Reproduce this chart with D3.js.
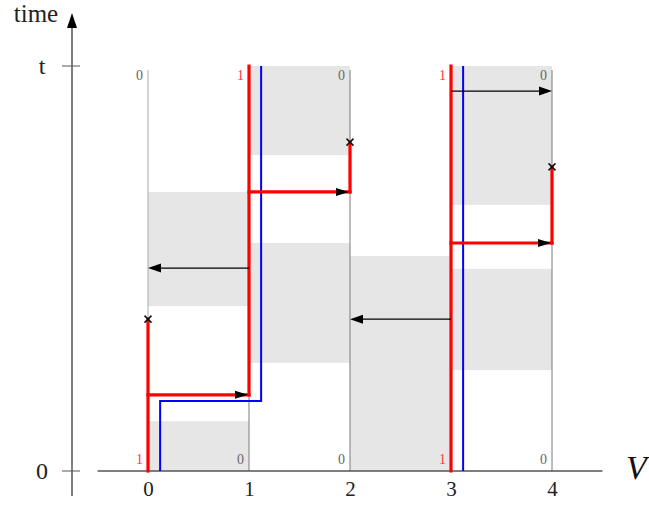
<!DOCTYPE html>
<html><head><meta charset="utf-8">
<script src="https://cdn.jsdelivr.net/npm/d3@7"></script>
<style>body{margin:0;background:#fff}svg{display:block}svg text{font-family:"Liberation Serif",serif !important}</style>
</head><body><div id="c"></div>
<script>
// positions V (0..4), time fraction of t (0..1)
const nodes = [0, 1, 2, 3, 4];
const xTicks = ["0", "1", "2", "3", "4"];
const yTicks = [{v: 0, label: "0"}, {v: 1, label: "t"}];
// initial (bottom) and final (top) states per site
const bottomStates = ["1", "0", "0", "1", "0"];
const topStates = ["0", "1", "0", "1", "0"];
// gray shaded intervals per column: [columnStart, t0, t1]
const shades = [
  [0, 0.0, 0.123], [0, 0.407, 0.689],
  [1, 0.267, 0.563], [1, 0.780, 1.0],
  [2, 0.0, 0.531],
  [3, 0.249, 0.499], [3, 0.657, 1.0]
];
// red path segments (thick): polylines of [V, time]
const redPaths = [
  [[0, 0], [0, 0.375]],
  [[0, 0.188], [1, 0.188]],
  [[1, 0.188], [1, 1.0]],
  [[1, 0.689], [2, 0.689]],
  [[2, 0.689], [2, 0.812]],
  [[3, 0], [3, 1.0]],
  [[3, 0.563], [4, 0.563]],
  [[4, 0.563], [4, 0.751]]
];
// red arrowheads: [V, time]
const redArrows = [[1, 0.188], [2, 0.689], [4, 0.563]];
// blue paths
const bluePaths = [
  [[0.12, 0], [0.12, 0.173], [1.12, 0.173], [1.12, 1.0]],
  [[3.12, 0], [3.12, 1.0]]
];
// black arrows: [fromV, toV, time]
const blackArrows = [[1, 0, 0.501], [3, 2, 0.375], [3, 4, 0.938]];
// cross marks: [V, time]
const crosses = [[0, 0.375], [2, 0.812], [4, 0.751]];

const W = 649, H = 506;
const svg = d3.select("#c").append("svg").attr("width", W).attr("height", H);
const x = d3.scaleLinear().domain([0, 4]).range([148, 552]);
const y = d3.scaleLinear().domain([0, 1]).range([471, 66]);

// shading
svg.selectAll("rect.sh").data(shades).join("rect")
  .attr("x", d => x(d[0])).attr("width", d => x(d[0] + 1) - x(d[0]))
  .attr("y", d => y(d[2])).attr("height", d => y(d[1]) - y(d[2]))
  .attr("fill", "#e6e6e6");

// gray vertical site lines
svg.selectAll("line.site").data(nodes).join("line")
  .attr("x1", d => x(d)).attr("x2", d => x(d))
  .attr("y1", y(0)).attr("y2", y(0.99))
  .attr("stroke", (d, i) => i === 0 ? "#aaa" : "#7a7a7a").attr("stroke-width", 1);

// axes
const xAxis = d3.axisBottom(x).tickValues(nodes).tickFormat((d, i) => xTicks[i]).tickSize(0).tickPadding(10);
const gx = svg.append("g").attr("transform", `translate(0,${y(0)})`).call(xAxis);
gx.select(".domain").remove();
gx.attr("font-family", null);
gx.selectAll("text").attr("font-size", 21).attr("fill", "#222");
svg.append("line").attr("x1", x(-0.5)).attr("x2", x(4.5)).attr("y1", y(0)).attr("y2", y(0))
  .attr("stroke", "#555").attr("stroke-width", 1.5);

const yAxisX = 72;
svg.append("line").attr("x1", yAxisX).attr("x2", yAxisX).attr("y1", 496).attr("y2", 24)
  .attr("stroke", "#555").attr("stroke-width", 1.5);
svg.append("path").attr("d", `M${yAxisX - 5},${28} L${yAxisX},${13} L${yAxisX + 5},${28} Z`).attr("fill", "#000");
svg.selectAll("line.yt").data(yTicks).join("line")
  .attr("x1", yAxisX - 10).attr("x2", yAxisX + 8).attr("y1", d => y(d.v)).attr("y2", d => y(d.v))
  .attr("stroke", "#555").attr("stroke-width", 1);
svg.selectAll("text.yl").data(yTicks).join("text")
  .attr("x", 42).attr("y", d => y(d.v) + 8).attr("text-anchor", "middle")
  .attr("font-size", 24).attr("fill", "#222").text(d => d.label);
svg.append("text").attr("x", 36).attr("y", 22).attr("text-anchor", "middle")
  .attr("font-size", 25).attr("fill", "#222").text("time");
svg.append("text").attr("x", 626).attr("y", 479).attr("font-size", 34).attr("font-style", "italic")
  .attr("fill", "#111").text("V");

// blue
const line = d3.line().x(d => x(d[0])).y(d => y(d[1]));
svg.selectAll("path.blue").data(bluePaths).join("path")
  .attr("d", line).attr("fill", "none").attr("stroke", "#0000ff").attr("stroke-width", 2);

// red
svg.selectAll("path.red").data(redPaths).join("path")
  .attr("d", line).attr("fill", "none").attr("stroke", "#ff0000").attr("stroke-width", 3.2)
  .attr("stroke-linecap", "square");
svg.selectAll("path.ra").data(redArrows).join("path")
  .attr("d", d => { const px = x(d[0]) - 1, py = y(d[1]); return `M${px},${py} L${px - 13},${py - 4} L${px - 13},${py + 4} Z`; })
  .attr("fill", "#000");

// black arrows
svg.selectAll("line.ba").data(blackArrows).join("line")
  .attr("x1", d => x(d[0])).attr("x2", d => x(d[1]) + (d[1] > d[0] ? -12 : 12))
  .attr("y1", d => y(d[2])).attr("y2", d => y(d[2]))
  .attr("stroke", "#000").attr("stroke-width", 1.2);
svg.selectAll("path.bah").data(blackArrows).join("path")
  .attr("d", d => { const s = d[1] > d[0] ? -1 : 1; const px = x(d[1]), py = y(d[2]);
    return `M${px},${py} L${px + s * 13},${py - 4.5} L${px + s * 13},${py + 4.5} Z`; })
  .attr("fill", "#000");

// crosses
svg.selectAll("path.cr").data(crosses).join("path")
  .attr("d", d => { const px = x(d[0]), py = y(d[1]), r = 3.5;
    return `M${px - r},${py - r} L${px + r},${py + r} M${px - r},${py + r} L${px + r},${py - r}`; })
  .attr("stroke", "#111").attr("stroke-width", 1.5);

// state labels
const stColor = s => s === "1" ? "#ff3b3b" : "#666";
svg.selectAll("text.bs").data(bottomStates).join("text")
  .attr("x", (d, i) => x(nodes[i]) - 5).attr("y", y(0) - 7).attr("text-anchor", "end")
  .attr("font-size", 14).attr("fill", stColor).text(d => d);
svg.selectAll("text.ts").data(topStates).join("text")
  .attr("x", (d, i) => x(nodes[i]) - 5).attr("y", y(1) + 14).attr("text-anchor", "end")
  .attr("font-size", 14).attr("fill", stColor).text(d => d);
</script></body></html>
